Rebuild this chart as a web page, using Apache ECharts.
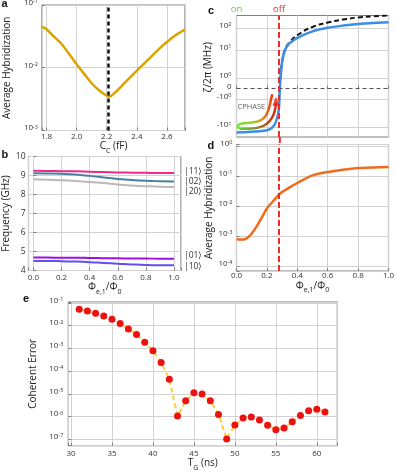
<!DOCTYPE html>
<html><head><meta charset="utf-8">
<script src="https://cdn.jsdelivr.net/npm/echarts@6/dist/echarts.min.js"></script>
<style>html,body{margin:0;padding:0;background:#fff}#c{width:397px;height:476px}</style>
</head><body><div id="c"></div>
<script>
// ---------- panel a ----------
const ccVals = [1.77,1.8,1.85,1.9,1.95,2.0,2.05,2.1,2.15,2.2,2.22,2.25,2.3,2.35,2.4,2.45,2.5,2.55,2.6,2.65,2.7,2.72];
const hybA = [0.0452,0.0410,0.0313,0.0239,0.0166,0.01137,0.00798,0.00566,0.00433,0.00360,0.00347,0.00392,0.00514,0.00681,0.00902,0.0118,0.0154,0.0202,0.0258,0.0321,0.0381,0.0405];
const ccOpt = 2.21;
// ---------- panel b ----------
const phiB = [0,0.1,0.2,0.3,0.4,0.5,0.6,0.7,0.8,0.9,1.0];
const f11 = [9.25,9.24,9.23,9.22,9.20,9.18,9.16,9.15,9.14,9.13,9.13];
const f02 = [9.12,9.11,9.09,9.05,8.98,8.90,8.82,8.76,8.72,8.70,8.69];
const f20 = [8.80,8.78,8.75,8.71,8.66,8.60,8.53,8.48,8.44,8.41,8.40];
const f01 = [4.68,4.68,4.67,4.67,4.66,4.65,4.64,4.63,4.63,4.62,4.62];
const f10 = [4.50,4.50,4.49,4.47,4.44,4.40,4.36,4.32,4.29,4.28,4.27];
const stateLabels = ['|11\u27E9','|02\u27E9','|20\u27E9','|01\u27E9','|10\u27E9'];
// ---------- panel c ----------
const phiC = [0,0.05,0.1,0.15,0.2,0.23,0.25,0.26,0.27,0.275,0.28,0.285,0.29,0.3,0.32,0.35,0.4,0.5,0.6,0.7,0.8,0.9,1.0];
const zetaDressed = [-14.7,-14.5,-14,-13.3,-12.3,-10.5,-7.8,-6,-4,-3,-1.8,0,1,3.8,10,20,35,69,100,126,150,167,178];
const phiBare = [0.29,0.3,0.32,0.35,0.4,0.5,0.6,0.7,0.8,0.9,1.0];
const zetaBare = [1,3.8,10.5,22,46,109,173,236,293,333,360];
const cpUpperPhi = [0.235,0.226,0.213,0.191,0.154,0.099,0.044,0.018,0.009,0.022];
const cpUpperZeta = [-0.52,-1.05,-2.06,-3.85,-5.6,-6.6,-7.0,-7.6,-9.2,-10.8];
const cpLowerPhi = [0.022,0.077,0.143,0.198,0.235,0.253,0.259];
const cpLowerZeta = [-10.8,-10.8,-9.9,-7.4,-4.3,-2.36,-1.37];
const cTickVals = [-10,-1,0,1,10,100];
const phiOff = 0.285;
const phiOn = 0;
// ---------- panel d ----------
const phiD = [0,0.03,0.055,0.08,0.1,0.125,0.15,0.175,0.2,0.25,0.285,0.35,0.4,0.5,0.6,0.7,0.8,0.9,1.0];
const hybD = [7.9e-4,7.7e-4,7.9e-4,9.5e-4,1.23e-3,1.85e-3,3.0e-3,5.0e-3,8.3e-3,0.0165,0.026,0.042,0.059,0.106,0.137,0.164,0.186,0.195,0.2];
// ---------- panel e ----------
const tg = [31,32,33,34,35,36,37,38,39,40,41,42,43,44,45,46,47,48,49,50,51,52,53,54,55,56,57,58,59,60,61];
const errE = [0.053,0.0446,0.035,0.0268,0.0192,0.0124,0.0072,0.0041,0.00187,7.8e-4,2.4e-4,4.4e-5,1.05e-6,4.96e-6,1.11e-5,9.7e-6,4.95e-6,1.24e-6,1.03e-7,4.2e-7,8.6e-7,9.5e-7,7.0e-7,4.1e-7,2.64e-7,3.1e-7,5.9e-7,1.12e-6,1.8e-6,2.07e-6,1.58e-6];

const F = '"Open Sans", "DejaVu Sans", sans-serif';
const GRIDC = '#d2d2d2';
const zip = (a, b) => a.map((v, i) => [v, b[i]]);

// symmetric-log style transform used for panel c's y axis
function sym(v) {
  const a = Math.abs(v);
  if (a <= 1) return v;
  if (v < 0) return -(1 + 2.65 * Math.log10(a));
  if (a <= 10) return 1 + 2.65 * Math.log10(a);
  return 3.65 + 2.06 * (Math.log10(a) - 1);
}
const cTickPos = cTickVals.map(sym);
const cMin = -4.52, cMax = 6.86;

const richNum = {
  m: {fontSize: 8, fontFamily: F, color: '#333', lineHeight: 13, verticalAlign: 'top'},
  s: {fontSize: 5.5, fontFamily: F, color: '#333', lineHeight: 6, verticalAlign: 'top'}
};
function logFmt(v) {
  const l = Math.log10(v), r = Math.round(l);
  if (Math.abs(l - r) > 0.02) return '';
  return '{m|10}{s|' + r + '}';
}
function cFmt(v) {
  const i = cTickPos.findIndex(p => Math.abs(p - v) < 1e-6);
  if (i < 0) return '';
  const t = cTickVals[i];
  if (t === 0) return '{m|0}';
  return '{m|' + (t < 0 ? '-' : '') + '10}{s|' + Math.round(Math.log10(Math.abs(t))) + '}';
}
// only label ticks that sit on the nice step (hides the range-end ticks)
const stepFmt = (step, dec) => v => {
  const k = v / step;
  return Math.abs(k - Math.round(k)) < 1e-6 ? v.toFixed(dec) : '';
};
const richName = {
  n: {fontSize: 10, fontFamily: F, color: '#222', lineHeight: 13, verticalAlign: 'top'},
  sub: {fontSize: 7, fontFamily: F, color: '#222', lineHeight: 8, verticalAlign: 'bottom'}
};

function merge(a, b) {
  for (const k in b) {
    const bv = b[k];
    if (bv && typeof bv === 'object' && !Array.isArray(bv) && a[k] && typeof a[k] === 'object' && !Array.isArray(a[k])) merge(a[k], bv);
    else a[k] = bv;
  }
  return a;
}
function ax(extra) {
  return merge({
    type: 'value',
    axisLine: {show: false},
    axisTick: {show: true, inside: true, length: 3, lineStyle: {color: '#808080', width: 1}},
    splitLine: {show: true, lineStyle: {color: GRIDC, width: 1}},
    axisLabel: {fontSize: 8, color: '#333', fontFamily: F, margin: 3},
    nameLocation: 'middle',
    nameTextStyle: {fontSize: 10, color: '#222', fontFamily: F, rich: richName}
  }, extra);
}
const gridStyle = {show: true, borderColor: '#808080', borderWidth: 1.2, containLabel: false, outerBoundsMode: 'none'};

const redDash = {color: '#ee2a2a', type: [6, 3], width: 2};
const cpUpperGrad = new echarts.graphic.LinearGradient(0, 0, 1, 0, [
  {offset: 0, color: '#66ee33'}, {offset: 0.45, color: '#9ccc2c'}, {offset: 0.7, color: '#e08a20'}, {offset: 1, color: '#ee2200'}]);
const cpLowerGrad = new echarts.graphic.LinearGradient(0, 0, 1, 0, [
  {offset: 0, color: '#55dd33'}, {offset: 0.45, color: '#8a8a2a'}, {offset: 0.78, color: '#b04a20'}, {offset: 1, color: '#ee2010'}]);

const bColors = ['#f0288c', '#4a7f9f', '#b9b9b9', '#a010e0', '#6050f0'];
const bData = [f11, f02, f20, f01, f10];
const bOffsets = [-1.5, 0.5, 5, -2.7, 1.7];

// horizontal grid lines of panel c at its tick values (drawn as mark lines)
const cGridLines = cTickPos.filter(p => p !== 0).map(p => ({yAxis: p, lineStyle: {color: GRIDC, width: 1, type: 'solid'}, label: {show: false}}));

const chart = echarts.init(document.getElementById('c'), null, {renderer: 'canvas'});
const option = {
  animation: false,
  backgroundColor: '#fff',
  textStyle: {fontFamily: F},
  grid: [
    merge({left: 42, top: 5, width: 143, height: 125.5}, gridStyle),
    merge({left: 28.5, top: 156.5, width: 152.5, height: 114}, gridStyle),
    merge({left: 236.5, top: 15.5, width: 152, height: 121.5}, gridStyle),
    merge({left: 236.5, top: 144.5, width: 152, height: 126.5}, gridStyle),
    merge({left: 68.3, top: 302, width: 269, height: 143.7}, gridStyle)
  ],
  xAxis: [
    ax({gridIndex: 0, min: 1.77, max: 2.72, splitNumber: 5, axisLabel: {formatter: stepFmt(0.2, 1), margin: 2},
        name: '{n|C}{sub|C}{n| (fF)}', nameGap: 9}),
    ax({gridIndex: 1, min: -0.035, max: 1.05, splitNumber: 5, axisLabel: {formatter: stepFmt(0.2, 1), margin: 3},
        name: '{n|\u03A6}{sub|e,1}{n|/\u03A6}{sub|0}', nameGap: 11}),
    ax({gridIndex: 2, min: 0, max: 1, interval: 0.2, axisLabel: {show: false}}),
    ax({gridIndex: 3, min: 0, max: 1, interval: 0.2, axisLabel: {formatter: v => v.toFixed(1), margin: 1},
        name: '{n|\u03A6}{sub|e,1}{n|/\u03A6}{sub|0}', nameGap: 8}),
    ax({gridIndex: 4, min: 29.67, max: 62.5, splitNumber: 5, axisLabel: {formatter: stepFmt(5, 0), margin: 4},
        name: '{n|T}{sub|G}{n| (ns)}', nameGap: 11})
  ],
  yAxis: [
    ax({gridIndex: 0, type: 'log', min: 1e-3, max: 1e-1, axisLabel: {formatter: logFmt, rich: richNum, margin: 4},
        name: 'Average Hybridization', nameGap: 30}),
    ax({gridIndex: 1, min: 4, max: 10, interval: 1, axisLabel: {margin: 3, fontSize: 8.5},
        name: 'Frequency (GHz)', nameGap: 17}),
    ax({gridIndex: 2, min: cMin, max: cMax, axisLabel: {customValues: cTickPos, formatter: cFmt, rich: richNum, margin: 5},
        axisTick: {customValues: cTickPos}, splitLine: {show: false},
        name: '\u03B6/2\u03C0 (MHz)', nameGap: 22, nameTextStyle: {padding: [0, 0, 0, 18]}}),
    ax({gridIndex: 3, type: 'log', min: 6.9e-5, max: 1.13, axisLabel: {formatter: logFmt, rich: richNum, margin: 4},
        name: 'Average Hybridization', nameGap: 21}),
    ax({gridIndex: 4, type: 'log', min: 5.2e-8, max: 0.11, axisLabel: {formatter: logFmt, rich: richNum, margin: 5},
        name: 'Coherent Error', nameGap: 19})
  ],
  series: [
    // a
    {type: 'line', xAxisIndex: 0, yAxisIndex: 0, data: zip(ccVals, hybA), smooth: 0.3, symbol: 'none',
     lineStyle: {color: '#d9a400', width: 2.5}, z: 3,
     markLine: {symbol: 'none', silent: true, label: {show: false}, lineStyle: {color: '#111', type: [4, 3], width: 2.5},
       data: [{xAxis: ccOpt}]}},
    // b
    ...bData.map((d, i) => ({
      type: 'line', xAxisIndex: 1, yAxisIndex: 1, data: zip(phiB, d), smooth: true, symbol: 'none',
      lineStyle: {color: bColors[i], width: 2},
      endLabel: {show: true, formatter: stateLabels[i], color: '#333', fontSize: 8.5, fontFamily: F, distance: 10, offset: [0, bOffsets[i]]}
    })),
    // c
    {type: 'line', xAxisIndex: 2, yAxisIndex: 2, data: zip(phiBare, zetaBare.map(sym)), smooth: true, symbol: 'none',
     lineStyle: {color: '#111', width: 2, type: [5, 3]}, z: 2,
     markLine: {symbol: 'none', silent: true, z: 1, data: cGridLines}},
    {type: 'line', xAxisIndex: 2, yAxisIndex: 2, data: zip(phiC, zetaDressed.map(sym)), smooth: 0.3, symbol: 'none',
     lineStyle: {color: '#3a8ee6', width: 2.5}, z: 3,
     markLine: {symbol: 'none', silent: true, data: [
       {yAxis: 0, lineStyle: {color: '#555', type: [4, 3], width: 1}, label: {show: false}},
       {xAxis: phiOff, lineStyle: redDash, label: {show: true, position: 'end', formatter: 'off', color: '#ee2a2a', fontSize: 9.5, fontFamily: F, distance: 1}}
     ]}},
    {type: 'line', xAxisIndex: 2, yAxisIndex: 2, data: zip(cpUpperPhi, cpUpperZeta.map(sym)), smooth: 0.4, symbol: 'none',
     lineStyle: {color: cpUpperGrad, width: 2.5}, z: 4},
    {type: 'line', xAxisIndex: 2, yAxisIndex: 2, data: zip(cpLowerPhi, cpLowerZeta.map(sym)), smooth: 0.4, symbol: 'none',
     lineStyle: {color: cpLowerGrad, width: 2.5}, z: 4},
    {type: 'scatter', xAxisIndex: 2, yAxisIndex: 2, data: [[cpLowerPhi[cpLowerPhi.length - 1], sym(cpLowerZeta[cpLowerZeta.length - 1])]],
     symbol: 'triangle', symbolSize: [7, 9], symbolOffset: [0, -2], itemStyle: {color: '#e81a0a'}, z: 5},
    {type: 'scatter', xAxisIndex: 2, yAxisIndex: 2, data: [[0.098, -1.71]], symbolSize: 0, z: 5,
     label: {show: true, position: 'inside', formatter: 'CPHASE', color: '#333', fontSize: 7.5, fontFamily: F}},
    // d
    {type: 'line', xAxisIndex: 3, yAxisIndex: 3, data: zip(phiD, hybD), smooth: 0.3, symbol: 'none',
     lineStyle: {color: '#f26b1d', width: 2.5}, z: 3,
     markLine: {symbol: 'none', silent: true, label: {show: false}, lineStyle: redDash, data: [{xAxis: phiOff}]}},
    // e
    {type: 'line', xAxisIndex: 4, yAxisIndex: 4, data: zip(tg, errE), symbol: 'circle', symbolSize: 7, showAllSymbol: true,
     lineStyle: {color: '#fcd034', width: 2, type: [5, 3]}, itemStyle: {color: '#ee1111', borderWidth: 0}, z: 3}
  ],
  graphic: {elements: ['a', 'b', 'c', 'd', 'e'].map((t, i) => ({
    type: 'text', id: 'l' + t,
    x: [1.5, 1.5, 208, 207.5, 23][i], y: [3.5, 154.5, 11, 146, 299][i],
    style: {text: t, font: 'bold 11px "Liberation Sans", sans-serif', fill: '#111', verticalAlign: 'middle', textVerticalAlign: 'middle'}
  }))}
};
chart.setOption(option);
// "on" marker above panel c, and the red "off" line continued through the gap between c and d
const xg = chart.convertToPixel({xAxisIndex: 3}, phiOff);
const xOn = chart.convertToPixel({xAxisIndex: 2}, phiOn);
const yc = chart.convertToPixel({yAxisIndex: 2}, cMin);
const yTopC = chart.convertToPixel({yAxisIndex: 2}, cMax);
const yd = chart.convertToPixel({yAxisIndex: 3}, 1.13);
chart.setOption({graphic: {elements: [
  {type: 'line', id: 'gap', shape: {x1: xg, y1: yc, x2: xg, y2: yd}, style: {stroke: '#ee2a2a', lineWidth: 2, lineDash: [6, 3]}},
  {type: 'text', id: 'on', x: xOn, y: yTopC - 6, style: {text: 'on', fill: '#55dd33', font: '9.5px "Open Sans", sans-serif', align: 'center', verticalAlign: 'middle', textAlign: 'center', textVerticalAlign: 'middle'}}
]}});
</script></body></html>
